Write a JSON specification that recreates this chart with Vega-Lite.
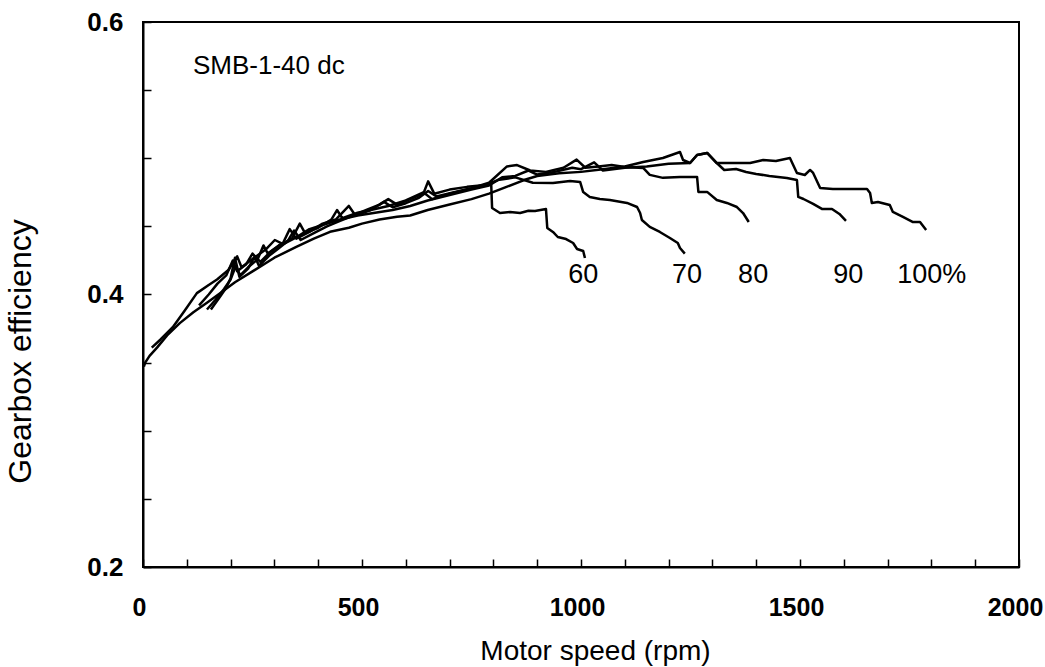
{
  "$schema": "https://vega.github.io/schema/vega-lite/v6.json",
  "width": 876,
  "height": 545,
  "autosize": "none",
  "padding": {"left": 143, "top": 22, "right": 26, "bottom": 100},
  "background": "white",
  "config": {
    "view": {"stroke": "black", "strokeWidth": 2},
    "font": "Liberation Sans"
  },
  "datasets": {
    "curves": [
      {"load":"100","speed":2,"eff":0.347},{"load":"100","speed":5,"eff":0.350},{"load":"100","speed":15,"eff":0.355},{"load":"100","speed":32,"eff":0.361},{"load":"100","speed":55,"eff":0.370},{"load":"100","speed":84,"eff":0.379},{"load":"100","speed":115,"eff":0.387},{"load":"100","speed":146,"eff":0.394},{"load":"100","speed":176,"eff":0.401},{"load":"100","speed":210,"eff":0.409},{"load":"100","speed":250,"eff":0.417},{"load":"100","speed":300,"eff":0.427},{"load":"100","speed":350,"eff":0.435},{"load":"100","speed":390,"eff":0.441},{"load":"100","speed":427,"eff":0.446},{"load":"100","speed":470,"eff":0.449},{"load":"100","speed":500,"eff":0.452},{"load":"100","speed":540,"eff":0.455},{"load":"100","speed":580,"eff":0.457},{"load":"100","speed":610,"eff":0.458},{"load":"100","speed":650,"eff":0.462},{"load":"100","speed":700,"eff":0.466},{"load":"100","speed":750,"eff":0.470},{"load":"100","speed":790,"eff":0.474},{"load":"100","speed":830,"eff":0.479},{"load":"100","speed":870,"eff":0.484},{"load":"100","speed":900,"eff":0.487},{"load":"100","speed":950,"eff":0.489},{"load":"100","speed":1000,"eff":0.490},{"load":"100","speed":1050,"eff":0.492},{"load":"100","speed":1100,"eff":0.494},{"load":"100","speed":1142,"eff":0.4973},{"load":"100","speed":1187,"eff":0.5002},{"load":"100","speed":1226,"eff":0.5046},{"load":"100","speed":1233,"eff":0.4987},{"load":"100","speed":1249,"eff":0.4965},{"load":"100","speed":1265,"eff":0.5024},{"load":"100","speed":1288,"eff":0.5039},{"load":"100","speed":1310,"eff":0.4965},{"load":"100","speed":1386,"eff":0.4965},{"load":"100","speed":1416,"eff":0.4987},{"load":"100","speed":1445,"eff":0.4980},{"load":"100","speed":1477,"eff":0.5002},{"load":"100","speed":1493,"eff":0.4892},{"load":"100","speed":1511,"eff":0.4877},{"load":"100","speed":1523,"eff":0.4914},{"load":"100","speed":1530,"eff":0.4892},{"load":"100","speed":1546,"eff":0.4782},{"load":"100","speed":1575,"eff":0.4774},{"load":"100","speed":1653,"eff":0.4774},{"load":"100","speed":1660,"eff":0.4745},{"load":"100","speed":1664,"eff":0.4672},{"load":"100","speed":1678,"eff":0.4679},{"load":"100","speed":1705,"eff":0.4657},{"load":"100","speed":1712,"eff":0.4606},{"load":"100","speed":1735,"eff":0.4569},{"load":"100","speed":1758,"eff":0.4532},{"load":"100","speed":1774,"eff":0.4532},{"load":"100","speed":1788,"eff":0.4474},

      {"load":"90","speed":20,"eff":0.361},{"load":"90","speed":40,"eff":0.367},{"load":"90","speed":68,"eff":0.376},{"load":"90","speed":95,"eff":0.388},{"load":"90","speed":123,"eff":0.401},{"load":"90","speed":150,"eff":0.407},{"load":"90","speed":169,"eff":0.411},{"load":"90","speed":195,"eff":0.418},{"load":"90","speed":215,"eff":0.428},{"load":"90","speed":225,"eff":0.420},{"load":"90","speed":250,"eff":0.426},{"load":"90","speed":280,"eff":0.433},{"load":"90","speed":301,"eff":0.440},{"load":"90","speed":320,"eff":0.437},{"load":"90","speed":350,"eff":0.442},{"load":"90","speed":380,"eff":0.448},{"load":"90","speed":410,"eff":0.451},{"load":"90","speed":450,"eff":0.455},{"load":"90","speed":490,"eff":0.458},{"load":"90","speed":530,"eff":0.460},{"load":"90","speed":570,"eff":0.462},{"load":"90","speed":610,"eff":0.465},{"load":"90","speed":650,"eff":0.469},{"load":"90","speed":700,"eff":0.473},{"load":"90","speed":750,"eff":0.477},{"load":"90","speed":790,"eff":0.480},{"load":"90","speed":820,"eff":0.486},{"load":"90","speed":850,"eff":0.487},{"load":"90","speed":880,"eff":0.491},{"load":"90","speed":900,"eff":0.488},{"load":"90","speed":940,"eff":0.490},{"load":"90","speed":980,"eff":0.493},{"load":"90","speed":1000,"eff":0.492},{"load":"90","speed":1030,"eff":0.497},{"load":"90","speed":1050,"eff":0.491},{"load":"90","speed":1100,"eff":0.493},{"load":"90","speed":1150,"eff":0.494},{"load":"90","speed":1200,"eff":0.496},{"load":"90","speed":1249,"eff":0.4965},{"load":"90","speed":1265,"eff":0.5024},{"load":"90","speed":1288,"eff":0.5039},{"load":"90","speed":1310,"eff":0.4965},{"load":"90","speed":1327,"eff":0.4914},{"load":"90","speed":1354,"eff":0.4921},{"load":"90","speed":1377,"eff":0.4899},{"load":"90","speed":1400,"eff":0.4885},{"load":"90","speed":1430,"eff":0.4870},{"load":"90","speed":1470,"eff":0.4855},{"load":"90","speed":1493,"eff":0.4840},{"load":"90","speed":1496,"eff":0.4716},{"load":"90","speed":1508,"eff":0.4701},{"load":"90","speed":1530,"eff":0.4665},{"load":"90","speed":1550,"eff":0.4628},{"load":"90","speed":1573,"eff":0.4628},{"load":"90","speed":1590,"eff":0.4591},{"load":"90","speed":1605,"eff":0.4540},

      {"load":"80","speed":146,"eff":0.389},{"load":"80","speed":165,"eff":0.396},{"load":"80","speed":185,"eff":0.404},{"load":"80","speed":200,"eff":0.411},{"load":"80","speed":212,"eff":0.421},{"load":"80","speed":222,"eff":0.414},{"load":"80","speed":240,"eff":0.420},{"load":"80","speed":262,"eff":0.426},{"load":"80","speed":275,"eff":0.436},{"load":"80","speed":285,"eff":0.430},{"load":"80","speed":310,"eff":0.436},{"load":"80","speed":340,"eff":0.441},{"load":"80","speed":358,"eff":0.452},{"load":"80","speed":370,"eff":0.445},{"load":"80","speed":400,"eff":0.449},{"load":"80","speed":430,"eff":0.455},{"load":"80","speed":443,"eff":0.462},{"load":"80","speed":455,"eff":0.456},{"load":"80","speed":490,"eff":0.460},{"load":"80","speed":520,"eff":0.462},{"load":"80","speed":550,"eff":0.468},{"load":"80","speed":570,"eff":0.464},{"load":"80","speed":600,"eff":0.467},{"load":"80","speed":630,"eff":0.471},{"load":"80","speed":651,"eff":0.476},{"load":"80","speed":670,"eff":0.472},{"load":"80","speed":710,"eff":0.475},{"load":"80","speed":750,"eff":0.478},{"load":"80","speed":790,"eff":0.482},{"load":"80","speed":831,"eff":0.494},{"load":"80","speed":854,"eff":0.495},{"load":"80","speed":884,"eff":0.491},{"load":"80","speed":920,"eff":0.490},{"load":"80","speed":960,"eff":0.493},{"load":"80","speed":990,"eff":0.499},{"load":"80","speed":1010,"eff":0.493},{"load":"80","speed":1040,"eff":0.494},{"load":"80","speed":1070,"eff":0.495},{"load":"80","speed":1100,"eff":0.4935},{"load":"80","speed":1142,"eff":0.4929},{"load":"80","speed":1157,"eff":0.4878},{"load":"80","speed":1187,"eff":0.4856},{"load":"80","speed":1226,"eff":0.4863},{"load":"80","speed":1265,"eff":0.4863},{"load":"80","speed":1268,"eff":0.4753},{"load":"80","speed":1288,"eff":0.4753},{"load":"80","speed":1310,"eff":0.4694},{"load":"80","speed":1333,"eff":0.4672},{"load":"80","speed":1356,"eff":0.4642},{"load":"80","speed":1370,"eff":0.4598},{"load":"80","speed":1383,"eff":0.4532},

      {"load":"70","speed":128,"eff":0.392},{"load":"70","speed":150,"eff":0.400},{"load":"70","speed":170,"eff":0.408},{"load":"70","speed":190,"eff":0.414},{"load":"70","speed":205,"eff":0.425},{"load":"70","speed":215,"eff":0.417},{"load":"70","speed":235,"eff":0.422},{"load":"70","speed":250,"eff":0.430},{"load":"70","speed":268,"eff":0.424},{"load":"70","speed":290,"eff":0.431},{"load":"70","speed":320,"eff":0.438},{"load":"70","speed":335,"eff":0.448},{"load":"70","speed":350,"eff":0.441},{"load":"70","speed":380,"eff":0.446},{"load":"70","speed":410,"eff":0.452},{"load":"70","speed":440,"eff":0.455},{"load":"70","speed":470,"eff":0.465},{"load":"70","speed":485,"eff":0.458},{"load":"70","speed":520,"eff":0.462},{"load":"70","speed":560,"eff":0.465},{"load":"70","speed":600,"eff":0.469},{"load":"70","speed":640,"eff":0.475},{"load":"70","speed":660,"eff":0.470},{"load":"70","speed":700,"eff":0.474},{"load":"70","speed":740,"eff":0.477},{"load":"70","speed":780,"eff":0.480},{"load":"70","speed":810,"eff":0.484},{"load":"70","speed":850,"eff":0.486},{"load":"70","speed":890,"eff":0.482},{"load":"70","speed":936,"eff":0.4818},{"load":"70","speed":975,"eff":0.4833},{"load":"70","speed":998,"eff":0.4826},{"load":"70","speed":1005,"eff":0.4752},{"load":"70","speed":1020,"eff":0.4716},{"load":"70","speed":1043,"eff":0.4701},{"load":"70","speed":1066,"eff":0.4694},{"load":"70","speed":1105,"eff":0.4672},{"load":"70","speed":1128,"eff":0.4642},{"load":"70","speed":1135,"eff":0.4598},{"load":"70","speed":1139,"eff":0.4547},{"load":"70","speed":1157,"eff":0.4496},{"load":"70","speed":1180,"eff":0.4459},{"load":"70","speed":1203,"eff":0.4415},{"load":"70","speed":1221,"eff":0.4378},{"load":"70","speed":1226,"eff":0.4341},{"load":"70","speed":1237,"eff":0.4300},

      {"load":"60","speed":155,"eff":0.389},{"load":"60","speed":175,"eff":0.398},{"load":"60","speed":190,"eff":0.405},{"load":"60","speed":200,"eff":0.412},{"load":"60","speed":210,"eff":0.427},{"load":"60","speed":220,"eff":0.413},{"load":"60","speed":240,"eff":0.419},{"load":"60","speed":255,"eff":0.428},{"load":"60","speed":265,"eff":0.421},{"load":"60","speed":290,"eff":0.429},{"load":"60","speed":310,"eff":0.434},{"load":"60","speed":330,"eff":0.439},{"load":"60","speed":345,"eff":0.447},{"load":"60","speed":360,"eff":0.440},{"load":"60","speed":390,"eff":0.445},{"load":"60","speed":420,"eff":0.450},{"load":"60","speed":450,"eff":0.454},{"load":"60","speed":480,"eff":0.458},{"load":"60","speed":510,"eff":0.462},{"load":"60","speed":540,"eff":0.466},{"load":"60","speed":560,"eff":0.470},{"load":"60","speed":580,"eff":0.466},{"load":"60","speed":610,"eff":0.470},{"load":"60","speed":640,"eff":0.474},{"load":"60","speed":651,"eff":0.483},{"load":"60","speed":665,"eff":0.474},{"load":"60","speed":700,"eff":0.477},{"load":"60","speed":740,"eff":0.479},{"load":"60","speed":770,"eff":0.480},{"load":"60","speed":795,"eff":0.481},{"load":"60","speed":797,"eff":0.4635},{"load":"60","speed":815,"eff":0.4598},{"load":"60","speed":838,"eff":0.4606},{"load":"60","speed":861,"eff":0.4598},{"load":"60","speed":880,"eff":0.4615},{"load":"60","speed":895,"eff":0.4613},{"load":"60","speed":920,"eff":0.4628},{"load":"60","speed":923,"eff":0.4488},{"load":"60","speed":936,"eff":0.4459},{"load":"60","speed":947,"eff":0.4422},{"load":"60","speed":966,"eff":0.4407},{"load":"60","speed":982,"eff":0.4378},{"load":"60","speed":991,"eff":0.4334},{"load":"60","speed":1005,"eff":0.4319},{"load":"60","speed":1009,"eff":0.4268}
    ],
    "labels": [
      {"speed":1005,"eff":0.4143,"text":"60"},
      {"speed":1242,"eff":0.4143,"text":"70"},
      {"speed":1393,"eff":0.4143,"text":"80"},
      {"speed":1610,"eff":0.4143,"text":"90"},
      {"speed":1801,"eff":0.4143,"text":"100%"}
    ],
    "note": [{"speed":114,"eff":0.5674,"text":"SMB-1-40 dc"}]
  },
  "layer": [
    {
      "data": {"name": "curves"},
      "mark": {"type": "line", "color": "black", "strokeWidth": 2.5, "strokeJoin": "round"},
      "encoding": {
        "x": {
          "field": "speed", "type": "quantitative",
          "scale": {"domain": [0, 2000], "nice": false, "zero": false},
          "axis": {
            "values": [0,100,200,300,400,500,600,700,800,900,1000,1100,1200,1300,1400,1500,1600,1700,1800,1900,2000],
            "labelExpr": "datum.value % 500 == 0 ? datum.label : ''",
            "format": "d",
            "grid": false,
            "domainColor": "black", "domainWidth": 2,
            "tickColor": "black", "tickWidth": 1.5, "tickSize": -8,
            "labelFont": "Liberation Sans", "labelFontSize": 25, "labelFontWeight": "bold", "labelColor": "black",
            "labelPadding": 36, "labelFlush": false, "labelOverlap": false, "labelOffset": -4,
            "title": "Motor speed (rpm)",
            "titleFont": "Liberation Sans", "titleFontSize": 28, "titleFontWeight": "normal", "titleColor": "black",
            "titleX": 452, "titleY": 84, "titleBaseline": "middle", "titleAlign": "center"
          }
        },
        "y": {
          "field": "eff", "type": "quantitative",
          "scale": {"domain": [0.2, 0.6], "nice": false, "zero": false},
          "axis": {
            "values": [0.2,0.25,0.3,0.35,0.4,0.45,0.5,0.55,0.6],
            "labelExpr": "(round(datum.value*100) % 20 == 0) ? format(datum.value, '.1f') : ''",
            "grid": false,
            "domainColor": "black", "domainWidth": 2,
            "tickColor": "black", "tickWidth": 1.5, "tickSize": -8,
            "labelFont": "Liberation Sans", "labelFontSize": 26, "labelFontWeight": "bold", "labelColor": "black",
            "labelPadding": 28, "labelFlush": false, "labelOverlap": false,
            "title": "Gearbox efficiency",
            "titleFont": "Liberation Sans", "titleFontSize": 32, "titleFontWeight": "normal", "titleColor": "black",
            "titleX": -123, "titleY": 329, "titleBaseline": "middle", "titleAlign": "center", "titleAngle": -90
          }
        },
        "detail": {"field": "load", "type": "nominal"}
      }
    },
    {
      "mark": {"type": "rule", "color": "black", "strokeWidth": 2},
      "encoding": {"y": {"datum": 0.4}}
    },
    {
      "data": {"name": "labels"},
      "mark": {"type": "text", "font": "Liberation Sans", "fontSize": 27, "align": "center", "baseline": "middle", "color": "black"},
      "encoding": {
        "x": {"field": "speed", "type": "quantitative"},
        "y": {"field": "eff", "type": "quantitative"},
        "text": {"field": "text"}
      }
    },
    {
      "data": {"name": "note"},
      "mark": {"type": "text", "font": "Liberation Sans", "fontSize": 26, "align": "left", "baseline": "middle", "color": "black"},
      "encoding": {
        "x": {"field": "speed", "type": "quantitative"},
        "y": {"field": "eff", "type": "quantitative"},
        "text": {"field": "text"}
      }
    }
  ]
}
